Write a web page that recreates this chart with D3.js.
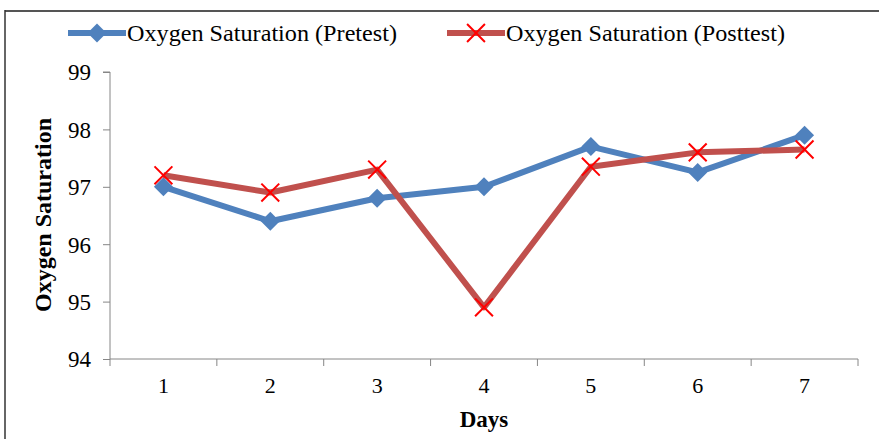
<!DOCTYPE html>
<html>
<head>
<meta charset="utf-8">
<script src="https://cdn.jsdelivr.net/npm/d3@7"></script>
<style>
  html, body { margin: 0; padding: 0; background: #fff; }
  svg { display: block; }
</style>
</head>
<body>
<svg id="chart" width="879" height="439"></svg>
<script>
// Daily oxygen saturation readings
const days = ["1", "2", "3", "4", "5", "6", "7"];
const pretest = [97.0, 96.4, 96.8, 97.0, 97.7, 97.25, 97.9];
const posttest = [97.2, 96.9, 97.3, 94.9, 97.35, 97.6, 97.65];
const yTicks = [94, 95, 96, 97, 98, 99];
const seriesNames = ["Oxygen Saturation (Pretest)", "Oxygen Saturation (Posttest)"];

const svg = d3.select("#chart");
const serif = '"Liberation Serif", "Times New Roman", Times, serif';
const blue = "#4F81BD", red = "#C0504D", markRed = "#FF0000", axisGrey = "#868686";

const plot = { left: 110, right: 858, top: 72, bottom: 359 };

const x = d3.scaleBand().domain(days).range([plot.left, plot.right]);
const y = d3.scaleLinear().domain([94, 99]).range([plot.bottom, plot.top]);

// frame lines along the top and left
svg.append("line").attr("x1", 5).attr("x2", 879).attr("y1", 11).attr("y2", 11)
  .attr("stroke", "#555").attr("stroke-width", 2);
svg.append("line").attr("x1", 5).attr("x2", 5).attr("y1", 10).attr("y2", 439)
  .attr("stroke", "#333").attr("stroke-width", 1.5);

// y axis
const yAxis = svg.append("g").attr("transform", `translate(${plot.left},0)`)
  .call(d3.axisLeft(y).tickValues(yTicks).tickSize(7).tickPadding(12).tickFormat(d3.format("d")));
yAxis.select(".domain").attr("stroke", axisGrey).attr("d", `M-7,${plot.top}H0V${plot.bottom}`);
yAxis.selectAll(".tick line").attr("stroke", axisGrey);
yAxis.selectAll(".tick text").style("font-family", serif).style("font-size", "23px")
  .attr("fill", "#000").attr("dy", "0.34em");

// x axis: tick marks at category boundaries, labels centred
const xg = svg.append("g").attr("transform", `translate(0,${plot.bottom})`);
xg.append("line").attr("x1", plot.left).attr("x2", plot.right).attr("stroke", axisGrey);
const bounds = days.map(d => x(d)).concat([plot.right]);
xg.selectAll("line.tk").data(bounds).enter().append("line").attr("class", "tk")
  .attr("x1", d => d).attr("x2", d => d).attr("y1", 0).attr("y2", 7).attr("stroke", axisGrey);
xg.selectAll("text").data(days).enter().append("text")
  .attr("x", d => x(d) + x.bandwidth() / 2).attr("y", 34)
  .attr("text-anchor", "middle").style("font-family", serif).style("font-size", "22px")
  .text(d => d);

// axis titles
svg.append("text").attr("x", (plot.left + plot.right) / 2).attr("y", 427)
  .attr("text-anchor", "middle").style("font-family", serif).style("font-size", "23px")
  .style("font-weight", "bold").text("Days");
svg.append("text").attr("transform", "translate(51,215) rotate(-90)")
  .attr("text-anchor", "middle").style("font-family", serif).style("font-size", "24px")
  .style("font-weight", "bold").attr("textLength", 194).attr("lengthAdjust", "spacingAndGlyphs")
  .text("Oxygen Saturation");

const cx = (d, i) => x(days[i]) + x.bandwidth() / 2;
const line = d3.line().x((d, i) => cx(d, i)).y(d => y(d));

// pretest series
svg.append("path").datum(pretest).attr("d", line).attr("fill", "none")
  .attr("stroke", blue).attr("stroke-width", 6).attr("stroke-linejoin", "round");
const diamond = d3.symbol().type(d3.symbolDiamond2).size(230);
svg.selectAll("path.dia").data(pretest).enter().append("path").attr("class", "dia")
  .attr("d", diamond).attr("fill", blue)
  .attr("transform", (d, i) => `translate(${cx(d, i)},${y(d)})`);

// posttest series
svg.append("path").datum(posttest).attr("d", line).attr("fill", "none")
  .attr("stroke", red).attr("stroke-width", 6).attr("stroke-linejoin", "round");
const cross = d3.symbol().type(d3.symbolTimes).size(210);
svg.selectAll("path.crs").data(posttest).enter().append("path").attr("class", "crs")
  .attr("d", cross).attr("fill", "none").attr("stroke", markRed).attr("stroke-width", 2)
  .attr("transform", (d, i) => `translate(${cx(d, i)},${y(d)})`);

// legend
const legend = [
  { name: seriesNames[0], color: blue, x0: 68, x1: 126, sym: diamond, fill: blue, stroke: "none", tx: 127, w: 270 },
  { name: seriesNames[1], color: red, x0: 447, x1: 505, sym: cross, fill: "none", stroke: markRed, tx: 506, w: 279 }
];
const lg = svg.selectAll("g.leg").data(legend).enter().append("g").attr("class", "leg");
lg.append("line").attr("x1", d => d.x0).attr("x2", d => d.x1).attr("y1", 33).attr("y2", 33)
  .attr("stroke", d => d.color).attr("stroke-width", 6);
lg.append("path").attr("d", d => d.sym()).attr("fill", d => d.fill).attr("stroke", d => d.stroke)
  .attr("stroke-width", 2).attr("transform", d => `translate(${(d.x0 + d.x1) / 2},33)`);
lg.append("text").attr("x", d => d.tx).attr("y", 41).style("font-family", serif).style("font-size", "24px")
  .attr("textLength", d => d.w).attr("lengthAdjust", "spacingAndGlyphs").text(d => d.name);
</script>
</body>
</html>
